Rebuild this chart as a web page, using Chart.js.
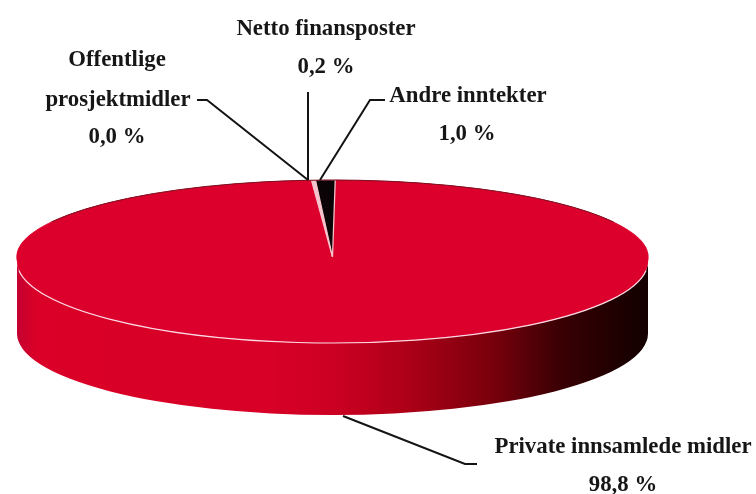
<!DOCTYPE html>
<html>
<head>
<meta charset="utf-8">
<title>Inntekter</title>
<script src="https://cdn.jsdelivr.net/npm/chart.js@4"></script>
<style>
  html, body { margin: 0; background: #fff; }
  canvas { display: block; }
</style>
</head>
<body>
<canvas id="pie" width="756" height="494"></canvas>
<script>
const categories = ["Private innsamlede midler", "Offentlige prosjektmidler", "Netto finansposter", "Andre inntekter"];
const values = [98.8, 0.0, 0.2, 1.0];
const sliceColors = ["#dc002c", "#f6c4cc", "#f6c4cc", "#0a0406"];
const sliceBorders = ["#dc002c", "#f6c4cc", "#f6c4cc", "#f6c4cc"];

// label placement, one line per text row
const FONT = 'bold 22.8px "Liberation Serif"';
const labelRows = [
  { i: 2, text: "Netto finansposter", x: 326, y: 35 },
  { i: 2, pct: true, x: 326, y: 73 },
  { i: 1, text: "Offentlige", x: 117, y: 66 },
  { i: 1, text: "prosjektmidler", x: 118, y: 106 },
  { i: 1, pct: true, x: 117, y: 143 },
  { i: 3, text: "Andre inntekter", x: 468, y: 102 },
  { i: 3, pct: true, x: 467, y: 140 },
  { i: 0, text: "Private innsamlede midler", x: 623, y: 453 },
  { i: 0, pct: true, x: 623, y: 491 }
];
const leaders = [
  [[197, 100], [207, 100], [308, 180]],
  [[308, 92], [308, 180]],
  [[385, 100], [370, 100], [320, 180]],
  [[343, 416], [465, 464], [477, 464]]
];

// the flattened disc on the page: rim ellipse, and the slightly higher ellipse the wedges sit on
const disc = { x: 332.5, y: 261.5, rx: 315.5, ry: 81.5, depth: 72 };
const face = { y: 257, ry: 77 };

const pct = v => v.toFixed(1).replace(".", ",") + " %";

const squash = {
  id: "squash",
  beforeDatasetsDraw(chart) {
    const ctx = chart.ctx;
    const g = ctx.createLinearGradient(disc.x - disc.rx, 0, disc.x + disc.rx, 0);
    g.addColorStop(0, "#c40030");
    g.addColorStop(0.03, "#da0028");
    g.addColorStop(0.4, "#d80026");
    g.addColorStop(0.5, "#cc0022");
    g.addColorStop(0.61, "#b00018");
    g.addColorStop(0.75, "#7a000c");
    g.addColorStop(0.86, "#3a0004");
    g.addColorStop(0.96, "#1c0000");
    g.addColorStop(1, "#140000");
    ctx.save();
    ctx.beginPath();
    ctx.ellipse(disc.x, disc.y, disc.rx, disc.ry, 0, 0, Math.PI);
    ctx.ellipse(disc.x, disc.y + disc.depth, disc.rx, disc.ry, 0, Math.PI, 0, true);
    ctx.closePath();
    ctx.fillStyle = g;
    ctx.fill();
    ctx.beginPath();
    ctx.ellipse(disc.x, disc.y, disc.rx, disc.ry, 0, 0, Math.PI * 2);
    ctx.fillStyle = sliceColors[0];
    ctx.fill();
    ctx.restore();
  },
  beforeDatasetDraw(chart) {
    const arc = chart.getDatasetMeta(0).data[0];
    const ctx = chart.ctx;
    ctx.save();
    ctx.translate(disc.x, face.y);
    ctx.scale(disc.rx / arc.outerRadius, face.ry / arc.outerRadius);
    ctx.translate(-arc.x, -arc.y);
  },
  afterDatasetDraw(chart) {
    chart.ctx.restore();
  },
  afterDatasetsDraw(chart) {
    const ctx = chart.ctx;
    ctx.save();

    // rim highlight and dark back edge
    ctx.beginPath();
    ctx.ellipse(disc.x, disc.y, disc.rx, disc.ry, 0, 0.11, Math.PI - 0.11);
    ctx.strokeStyle = "#fbd8e4";
    ctx.lineWidth = 1.2;
    ctx.stroke();
    ctx.beginPath();
    ctx.ellipse(disc.x, face.y, disc.rx, face.ry, 0, Math.PI * 1.15, Math.PI * 1.85);
    ctx.strokeStyle = "#7a1020";
    ctx.lineWidth = 1;
    ctx.stroke();

    ctx.strokeStyle = "#141414";
    ctx.lineWidth = 2;
    leaders.forEach(pts => {
      ctx.beginPath();
      pts.forEach((p, n) => n ? ctx.lineTo(p[0], p[1]) : ctx.moveTo(p[0], p[1]));
      ctx.stroke();
    });

    ctx.fillStyle = "#161616";
    ctx.font = FONT;
    ctx.textAlign = "center";
    ctx.textBaseline = "alphabetic";
    labelRows.forEach(r => {
      ctx.fillText(r.pct ? pct(values[r.i]) : r.text, r.x, r.y);
    });
    ctx.restore();
  }
};

new Chart(document.getElementById("pie"), {
  type: "pie",
  data: {
    labels: categories,
    datasets: [{
      data: values,
      backgroundColor: sliceColors,
      borderColor: sliceBorders,
      borderWidth: 1
    }]
  },
  options: {
    responsive: false,
    animation: false,
    rotation: 0.5,
    layout: { padding: 0 },
    plugins: { legend: { display: false }, tooltip: { enabled: false } }
  },
  plugins: [squash]
});
</script>
</body>
</html>
